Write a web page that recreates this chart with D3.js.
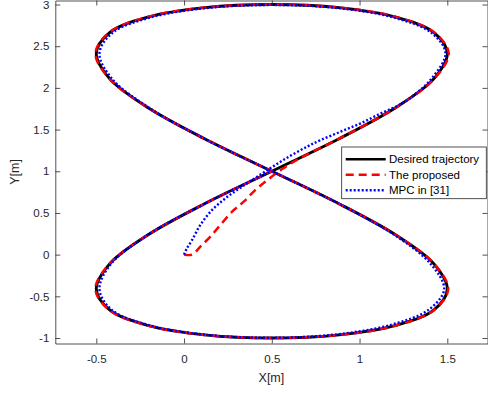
<!DOCTYPE html>
<html>
<head>
<meta charset="utf-8">
<script src="https://cdn.jsdelivr.net/npm/d3@7"></script>
<style>
  html, body { margin: 0; padding: 0; background: #fff; }
  svg { display: block; font-family: "Liberation Sans", Arial, sans-serif; }
</style>
</head>
<body>
<div id="chart"></div>
<script>
// desired figure-eight (closed loop)
const desiredX = [0.5, 0.883, 1.207, 1.424, 1.5, 1.424, 1.207, 0.883, 0.5, 0.117, -0.207, -0.424, -0.5, -0.424, -0.207, 0.117,
                  0.5, 0.883, 1.207, 1.424, 1.5, 1.424, 1.207, 0.883, 0.5, 0.117, -0.207, -0.424, -0.5, -0.424, -0.207, 0.117];
const desiredY = [1.0, 1.39, 1.765, 2.111, 2.414, 2.663, 2.848, 2.962, 3.0, 2.962, 2.848, 2.663, 2.414, 2.111, 1.765, 1.39,
                  1.0, 0.61, 0.235, -0.111, -0.414, -0.663, -0.848, -0.962, -1.0, -0.962, -0.848, -0.663, -0.414, -0.111, 0.235, 0.61];

// the proposed controller
const proposedX = [0, 0.045, 0.093, 0.15, 0.207, 0.274, 0.34, 0.407, 0.48, 0.566, 0.65, 0.75,
                   0.883, 1.207, 1.426, 1.508, 1.426, 1.208, 0.883, 0.5, 0.117, -0.208, -0.427, -0.505, -0.426, -0.207, 0.117, 0.5,
                   0.883, 1.207, 1.425, 1.505, 1.425, 1.207, 0.883, 0.5, 0.117, -0.207, -0.426, -0.505, -0.425, -0.207, 0.117, 0.5];
const proposedY = [0, 0, 0.096, 0.216, 0.356, 0.515, 0.635, 0.776, 0.903, 1.035, 1.145, 1.252,
                   1.39, 1.765, 2.111, 2.414, 2.664, 2.85, 2.963, 3.0, 2.963, 2.85, 2.664, 2.414, 2.111, 1.765, 1.39, 1.0,
                   0.61, 0.235, -0.111, -0.414, -0.664, -0.85, -0.963, -1.0, -0.963, -0.85, -0.664, -0.414, -0.111, 0.235, 0.61, 1.0];

// MPC in [31]
const mpcX = [0, 0.015, 0.046, 0.093, 0.16, 0.236, 0.322, 0.417, 0.512, 0.607, 0.703, 0.779, 0.893, 1.007, 1.122, 1.236, 1.325,
              1.41, 1.49, 1.41, 1.197, 0.877, 0.5, 0.125, -0.195, -0.408, -0.482, -0.41, -0.198, 0.12, 0.5,
              0.883, 1.2, 1.405, 1.482, 1.398, 1.185, 0.872, 0.5, 0.118, -0.2, -0.412, -0.482, -0.415, -0.205, 0.117, 0.5];
const mpcY = [0, 0.07, 0.176, 0.356, 0.536, 0.676, 0.803, 0.935, 1.064, 1.187, 1.297, 1.375, 1.475, 1.575, 1.695, 1.805, 1.94,
              2.111, 2.414, 2.66, 2.842, 2.957, 2.995, 2.957, 2.842, 2.66, 2.414, 2.108, 1.76, 1.385, 1.0,
              0.61, 0.235, -0.111, -0.414, -0.655, -0.838, -0.956, -0.998, -0.96, -0.846, -0.662, -0.414, -0.108, 0.237, 0.61, 1.0];

const xTicks = [-0.5, 0, 0.5, 1, 1.5];
const yTicks = [-1, -0.5, 0, 0.5, 1, 1.5, 2, 2.5, 3];
const legendLabels = ["Desired trajectory", "The proposed", "MPC in [31]"];

const W = 488, H = 394;
const box = {left: 55.3, right: 487.5, top: 0.5, bottom: 343.5};
const axisColor = "#262626";

let svg = d3.select("#chart").append("svg").attr("width", W).attr("height", H);

// scales: tick positions measured, then stretched to the box edges
let x = d3.scaleLinear().domain([-0.5, 1.5]).range([96.3, 447.3]);
x.domain([x.invert(box.left), x.invert(box.right)]).range([box.left, box.right]);
let y = d3.scaleLinear().domain([-1, 3]).range([338, 4.5]);
y.domain([y.invert(box.bottom), y.invert(box.top)]).range([box.bottom, box.top]);

let zip = (xs, ys) => xs.map((v, i) => [v, ys[i]]);

let plot = svg.append("g");
plot.append("defs").append("clipPath").attr("id", "clip")
    .append("rect").attr("x", box.left).attr("y", box.top)
    .attr("width", box.right - box.left).attr("height", box.bottom - box.top);

let g = plot.append("g").attr("clip-path", "url(#clip)");

let closed = d3.line().x(d => x(d[0])).y(d => y(d[1])).curve(d3.curveCatmullRomClosed.alpha(0.5));
let open = d3.line().x(d => x(d[0])).y(d => y(d[1])).curve(d3.curveCatmullRom.alpha(0.5));

const series = [
    {path: closed(zip(desiredX, desiredY)), color: "#000000", dash: null, width: 2.9},
    {path: open(zip(proposedX, proposedY)), color: "#ff0000", dash: "8,5", width: 2.5},
    {path: open(zip(mpcX, mpcY)), color: "#0000ff", dash: "2,2", width: 2.4}
];

g.selectAll("path.trace").data(series).enter().append("path")
    .attr("class", "trace")
    .attr("d", d => d.path)
    .attr("fill", "none")
    .attr("stroke", d => d.color)
    .attr("stroke-width", d => d.width)
    .attr("stroke-dasharray", d => d.dash);

// axes with inward ticks on all four sides
function styleAxis(sel) {
    sel.select(".domain").attr("stroke", axisColor).attr("stroke-width", 0.8);
    sel.selectAll(".tick line").attr("stroke", axisColor).attr("stroke-width", 0.8);
    sel.selectAll(".tick text").attr("fill", axisColor).style("font-size", "11.5px")
        .style("font-family", "'Liberation Sans', Arial, sans-serif");
}

let fmt = d => String(d);

svg.append("g").attr("transform", `translate(0,${box.bottom})`)
    .call(d3.axisBottom(x).tickValues(xTicks).tickFormat(fmt).tickSizeInner(-5).tickSizeOuter(0).tickPadding(11))
    .call(styleAxis);
svg.append("g").attr("transform", `translate(0,${box.top})`)
    .call(d3.axisTop(x).tickValues(xTicks).tickFormat("").tickSizeInner(-5).tickSizeOuter(0))
    .call(styleAxis);
svg.append("g").attr("transform", `translate(${box.left},0)`)
    .call(d3.axisLeft(y).tickValues(yTicks).tickFormat(fmt).tickSizeInner(-5).tickSizeOuter(0).tickPadding(6))
    .call(styleAxis);
svg.append("g").attr("transform", `translate(${box.right},0)`)
    .call(d3.axisRight(y).tickValues(yTicks).tickFormat("").tickSizeInner(-5).tickSizeOuter(0))
    .call(styleAxis);

// axis titles
svg.append("text").attr("x", (box.left + box.right) / 2).attr("y", 382)
    .attr("text-anchor", "middle").attr("fill", axisColor).style("font-size", "12.5px")
    .text("X[m]");
svg.append("text").attr("transform", `translate(19,${(box.top + box.bottom) / 2}) rotate(-90)`)
    .attr("text-anchor", "middle").attr("fill", axisColor).style("font-size", "12.5px")
    .text("Y[m]");

// legend
let lg = svg.append("g");
lg.append("rect").attr("x", 341.7).attr("y", 147).attr("width", 144.6).attr("height", 51.7)
    .attr("fill", "#fff").attr("stroke", axisColor).attr("stroke-width", 0.8);
let rows = lg.selectAll("g.row").data(series).enter().append("g")
    .attr("class", "row")
    .attr("transform", (d, i) => `translate(0,${159.3 + i * 15.5})`);
rows.append("line").attr("x1", 345.7).attr("x2", 385.7)
    .attr("stroke", d => d.color).attr("stroke-width", 2.5)
    .attr("stroke-dasharray", d => d.dash);
rows.append("text").attr("x", 389).attr("dy", "0.35em")
    .style("font-size", "11.5px").attr("fill", "#000")
    .text((d, i) => legendLabels[i]);
</script>
</body>
</html>
